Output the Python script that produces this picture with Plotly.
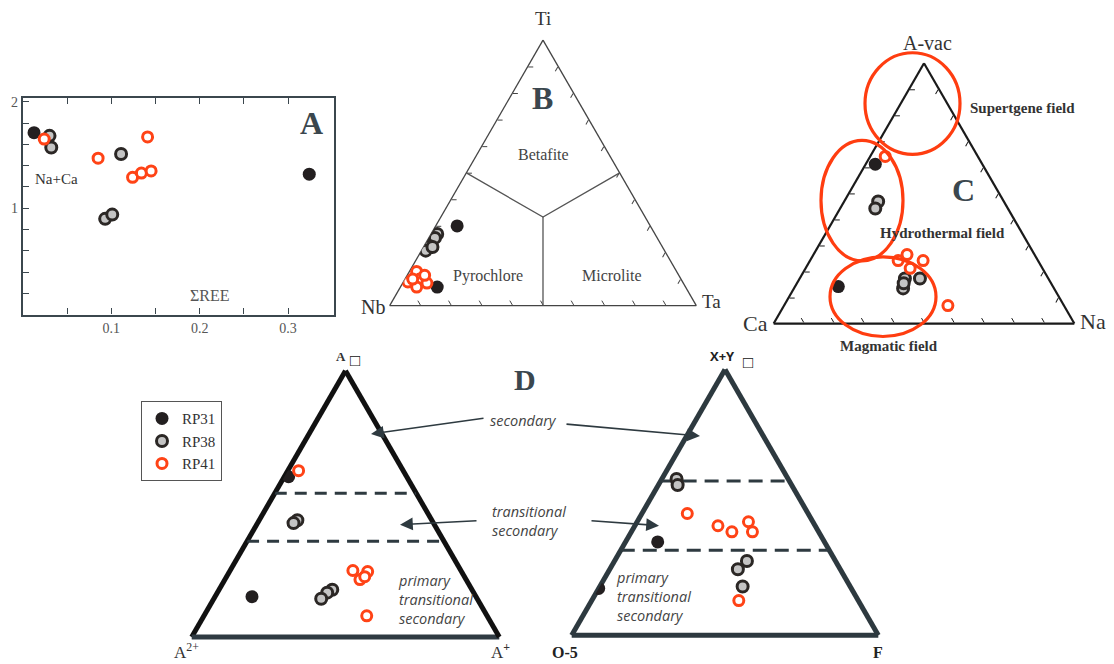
import numpy as np
import plotly.graph_objects as go

W, H = 1114, 664

# ---------------- Panel A data (ΣREE vs Na+Ca) ----------------
a_rp31_x = [0.0125, 0.324]
a_rp31_y = [1.71, 1.32]
a_rp38_x = [0.030, 0.032, 0.111, 0.093, 0.101]
a_rp38_y = [1.68, 1.57, 1.51, 0.90, 0.94]
a_rp41_x = [0.024, 0.085, 0.141, 0.124, 0.134, 0.145]
a_rp41_y = [1.65, 1.47, 1.67, 1.29, 1.33, 1.35]
a_xticks = [0.05, 0.10, 0.15, 0.20, 0.25, 0.30]
a_xticktext = ["", "0.1", "", "0.2", "", "0.3"]
a_yticks = [0.2, 0.4, 0.6, 0.8, 1.0, 1.2, 1.4, 1.6, 1.8, 2.0]
a_yticktext = ["", "", "", "", "1", "", "", "", "", "2"]

# ---------------- Panel B data (Ti, Nb, Ta) ----------------
b_rp31_ti = [0.30, 0.07]
b_rp31_nb = [0.63, 0.81]
b_rp31_ta = [0.07, 0.12]
b_rp38_ti = [0.27, 0.255, 0.225, 0.207, 0.221]
b_rp38_nb = [0.71, 0.725, 0.758, 0.779, 0.750]
b_rp38_ta = [0.02, 0.020, 0.017, 0.014, 0.029]
b_rp41_ti = [0.129, 0.089, 0.100, 0.085, 0.070, 0.114, 0.100]
b_rp41_nb = [0.848, 0.896, 0.852, 0.836, 0.877, 0.829, 0.875]
b_rp41_ta = [0.023, 0.015, 0.048, 0.079, 0.053, 0.057, 0.025]
# field boundaries (centroid to edge midpoints)
b_field_ti = [0.5, 1/3, 0.5, None, 1/3, 0.0]
b_field_nb = [0.5, 1/3, 0.0, None, 1/3, 0.5]
b_field_ta = [0.0, 1/3, 0.5, None, 1/3, 0.5]

# ---------------- Panel C data (A-vac, Ca, Na) ----------------
c_rp31_av = [0.612, 0.142]
c_rp31_ca = [0.356, 0.714]
c_rp31_na = [0.032, 0.144]
c_rp38_av = [0.469, 0.442, 0.173, 0.135, 0.173, 0.155]
c_rp38_ca = [0.418, 0.441, 0.477, 0.502, 0.427, 0.490]
c_rp38_na = [0.113, 0.117, 0.350, 0.363, 0.400, 0.355]
c_rp41_av = [0.642, 0.242, 0.265, 0.242, 0.212, 0.069]
c_rp41_ca = [0.308, 0.465, 0.424, 0.382, 0.440, 0.386]
c_rp41_na = [0.050, 0.293, 0.311, 0.376, 0.348, 0.545]

# ---------------- Panel D left (A vacancy, A2+, A+) ----------------
dl_rp31_v = [0.152, 0.602]
dl_rp31_2 = [0.728, 0.384]
dl_rp31_1 = [0.120, 0.014]
dl_rp38_v = [0.439, 0.428, 0.178, 0.167, 0.144]
dl_rp38_2 = [0.437, 0.455, 0.454, 0.476, 0.507]
dl_rp38_1 = [0.124, 0.117, 0.368, 0.357, 0.349]
dl_rp41_v = [0.625, 0.250, 0.246, 0.216, 0.227, 0.080]
dl_rp41_2 = [0.340, 0.351, 0.305, 0.345, 0.324, 0.391]
dl_rp41_1 = [0.035, 0.399, 0.449, 0.439, 0.449, 0.529]
dl_bounds = [0.54, 0.36]

# ---------------- Panel D right (X+Y vacancy, O-5, F) ----------------
dr_rp31_v = [0.351, 0.176]
dr_rp31_o = [0.544, 0.824]
dr_rp31_f = [0.105, 0.000]
dr_rp38_v = [0.588, 0.565, 0.279, 0.248, 0.183]
dr_rp38_o = [0.364, 0.372, 0.289, 0.334, 0.351]
dr_rp38_f = [0.048, 0.063, 0.432, 0.418, 0.466]
dr_rp41_v = [0.458, 0.412, 0.389, 0.427, 0.389, 0.130]
dr_rp41_o = [0.394, 0.317, 0.283, 0.210, 0.216, 0.390]
dr_rp41_f = [0.148, 0.271, 0.328, 0.363, 0.395, 0.480]
dr_bounds = [0.58, 0.32]

series_names = ["RP31", "RP38", "RP41"]

# ---------------- styles ----------------
SERIF = "Liberation Serif"
SANS = "Open Sans"
SLATE = "#3b474e"
M31 = dict(size=13, color="#231f20", symbol="circle", line=dict(width=0))
M38 = dict(size=11, color="#c4c4c4", symbol="circle", line=dict(color="#2b2725", width=3))
M41 = dict(size=10, color="white", symbol="circle", line=dict(color="#ff4316", width=3))
MARKERS = [M31, M38, M41]


def px(x):
    return x / W


def py(y):
    return 1 - y / H


def tern_domain(xl, base, w):
    h = w * np.sqrt(3) / 2
    return dict(x=[px(xl), px(xl + w)], y=[py(base), py(base - h)])


def tern_axis(color, width, ticks):
    d = dict(showgrid=False, showticklabels=False, linecolor=color, linewidth=width,
             title=dict(text=""), layer="below traces")
    if ticks:
        d.update(ticks="inside", ticklen=5, tickwidth=1, tickcolor=color, tickmode="linear",
                 tick0=0, dtick=0.1)
    else:
        d.update(ticks="")
    return d


fig = go.Figure()

# Panel A traces
for name, xs, ys, mk in zip(series_names, [a_rp31_x, a_rp38_x, a_rp41_x],
                            [a_rp31_y, a_rp38_y, a_rp41_y], MARKERS):
    fig.add_trace(go.Scatter(x=xs, y=ys, mode="markers", marker=mk, name=name,
                             legendgroup=name, showlegend=True))

# Ternary traces helper
def add_tern(sub, groups):
    for name, (aa, bb, cc), mk in zip(series_names, groups, MARKERS):
        fig.add_trace(go.Scatterternary(a=aa, b=bb, c=cc, mode="markers", marker=mk,
                                        name=name, legendgroup=name, showlegend=False,
                                        subplot=sub))


# Panel B
fig.add_trace(go.Scatterternary(a=b_field_ti, b=b_field_nb, c=b_field_ta, mode="lines",
                                line=dict(color="#555555", width=1.3), showlegend=False,
                                subplot="ternary", hoverinfo="skip"))
add_tern("ternary", [(b_rp31_ti, b_rp31_nb, b_rp31_ta),
                     (b_rp38_ti, b_rp38_nb, b_rp38_ta),
                     (b_rp41_ti, b_rp41_nb, b_rp41_ta)])

# Panel C
add_tern("ternary2", [(c_rp31_av, c_rp31_ca, c_rp31_na),
                      (c_rp38_av, c_rp38_ca, c_rp38_na),
                      (c_rp41_av, c_rp41_ca, c_rp41_na)])

# Panel D left boundaries
for v in dl_bounds:
    fig.add_trace(go.Scatterternary(a=[v, v], b=[1 - v, 0], c=[0, 1 - v], mode="lines",
                                    line=dict(color="#2e3a40", width=3, dash="12px,8px"),
                                    showlegend=False, subplot="ternary3", hoverinfo="skip"))
add_tern("ternary3", [(dl_rp31_v, dl_rp31_2, dl_rp31_1),
                      (dl_rp38_v, dl_rp38_2, dl_rp38_1),
                      (dl_rp41_v, dl_rp41_2, dl_rp41_1)])

# Panel D right boundaries
for v in dr_bounds:
    fig.add_trace(go.Scatterternary(a=[v, v], b=[1 - v, 0], c=[0, 1 - v], mode="lines",
                                    line=dict(color="#2e3a40", width=3, dash="14px,8px"),
                                    showlegend=False, subplot="ternary4", hoverinfo="skip"))
add_tern("ternary4", [(dr_rp31_v, dr_rp31_o, dr_rp31_f),
                      (dr_rp38_v, dr_rp38_o, dr_rp38_f),
                      (dr_rp41_v, dr_rp41_o, dr_rp41_f)])

# ---------------- layout ----------------
tick_font = dict(family=SERIF, size=14, color="#555555")
fig.update_layout(
    width=W, height=H, margin=dict(l=0, r=0, t=0, b=0),
    paper_bgcolor="white", plot_bgcolor="white",
    xaxis=dict(domain=[px(23), px(334)], range=[0, 0.352], tickvals=a_xticks,
               ticktext=a_xticktext, ticks="inside", ticklen=6, tickwidth=1.3,
               tickcolor=SLATE, showline=True, linecolor=SLATE, linewidth=2.2,
               mirror="ticks", showgrid=False, zeroline=False, tickfont=tick_font),
    yaxis=dict(domain=[py(313), py(95)], range=[0, 2.04], tickvals=a_yticks,
               ticktext=a_yticktext, ticks="inside", ticklen=6, tickwidth=1.3,
               tickcolor=SLATE, showline=True, linecolor=SLATE, linewidth=2.2,
               mirror=True, showgrid=False, zeroline=False, tickfont=tick_font),
    ternary=dict(domain=tern_domain(389, 304, 308), bgcolor="rgba(0,0,0,0)",
                 aaxis=tern_axis("#444444", 1.3, True), baxis=tern_axis("#444444", 1.3, True),
                 caxis=tern_axis("#444444", 1.3, True)),
    ternary2=dict(domain=tern_domain(773, 322, 302), bgcolor="rgba(0,0,0,0)",
                  aaxis=tern_axis("#1a1a1a", 2.2, True), baxis=tern_axis("#1a1a1a", 2.2, True),
                  caxis=tern_axis("#1a1a1a", 2.2, True)),
    ternary3=dict(domain=tern_domain(191, 637, 309), bgcolor="rgba(0,0,0,0)",
                  aaxis=tern_axis("#111111", 5, False), baxis=tern_axis("#2f3a42", 5, False),
                  caxis=tern_axis("#111111", 5, False)),
    ternary4=dict(domain=tern_domain(571, 635, 308), bgcolor="rgba(0,0,0,0)",
                  aaxis=tern_axis("#2d393f", 5, False), baxis=tern_axis("#2d393f", 5, False),
                  caxis=tern_axis("#2d393f", 5, False)),
    legend=dict(x=px(141), y=py(400), xanchor="left", yanchor="top",
                bordercolor="#555555", borderwidth=1, bgcolor="white",
                font=dict(family=SERIF, size=15, color="#333333"),
                itemwidth=30, tracegroupgap=0),
    showlegend=True,
)

# ---------------- annotations ----------------
anns = []


def ann(text, x, y, size, color="#333333", family=SERIF, xanchor="center", yanchor="middle",
        align="center"):
    anns.append(dict(text=text, x=px(x), y=py(y), xref="paper", yref="paper",
                     showarrow=False, xanchor=xanchor, yanchor=yanchor, align=align,
                     font=dict(family=family, size=size, color=color)))


# Panel A
ann("Na+Ca", 56, 177, 15)
ann("ΣREE", 210, 294, 16, color="#555555")
ann("<b>A</b>", 311, 121, 32, color=SLATE)
# Panel B
ann("Ti", 543, 16, 19)
ann("Nb", 387, 305, 20, xanchor="right")
ann("Ta", 700, 300, 19, xanchor="left")
ann("<b>B</b>", 542, 95, 32, color=SLATE)
ann("Betafite", 543, 152, 16, color="#444444")
ann("Pyrochlore", 488, 274, 16, color="#444444")
ann("Microlite", 612, 274, 16, color="#444444")
# Panel C
ann("A-vac", 927, 40, 20)
ann("Ca", 770, 322, 22, xanchor="right")
ann("Na", 1078, 320, 22, xanchor="left")
ann("<b>C</b>", 963, 188, 32, color=SLATE)
ann("<b>Supertgene field</b>", 1022, 105, 15)
ann("<b>Hydrothermal field</b>", 942, 231, 15)
ann("<b>Magmatic field</b>", 889, 345, 15)
# Panel D
ann("<b>D</b>", 525, 378, 30, color=SLATE)
ann("<b>A</b>", 341, 355, 13, color="#333333")
ann("<b>□</b>", 355, 359, 17, color="#111111")
ann("<b>X+Y</b>", 722, 355, 13, color="#222222", family=SANS)
ann("<b>□</b>", 748, 361, 17, color="#111111")
ann("A<sup>2+</sup>", 186, 651, 17, color="#333333")
ann("A<sup><b>+</b></sup>", 500, 651, 17, color="#333333")
ann("<b>O-5</b>", 565, 652, 16, color="#222222")
ann("<b>F</b>", 878, 652, 16, color="#222222")
ann("<i>secondary</i>", 523, 419, 14.5, color="#444444", family=SANS)
ann("<i>transitional<br>secondary</i>", 490, 520, 14.5, color="#444444", family=SANS,
    xanchor="left", align="left")
ann("<i>primary<br>transitional<br>secondary</i>", 396, 599, 14.5, color="#444444",
    family=SANS, xanchor="left", align="left")
ann("<i>primary<br>transitional<br>secondary</i>", 614, 596, 14.5, color="#444444",
    family=SANS, xanchor="left", align="left")

# arrows (head position, tail position) in pixels
arrows = [((371, 433), (485, 417)), ((700, 435), (565, 423)),
          ((400, 524), (478, 520)), ((659, 525), (590, 520))]
for (hx, hy), (tx, ty) in arrows:
    anns.append(dict(x=px(hx), y=py(hy), xref="paper", yref="paper",
                     ax=tx - hx, ay=ty - hy, axref="pixel", ayref="pixel",
                     showarrow=True, arrowhead=2, arrowsize=1.6, arrowwidth=1.6,
                     arrowcolor="#2e3a40", text=""))

fig.update_layout(annotations=anns)

# ---------------- ellipses in C ----------------
ellipses = [(865, 50, 960, 152), (821, 138, 903, 259), (830, 255, 936, 335)]
for x0, y0, x1, y1 in ellipses:
    fig.add_shape(type="circle", xref="paper", yref="paper", x0=px(x0), x1=px(x1),
                  y0=py(y1), y1=py(y0), line=dict(color="#ff3d10", width=3.2))

fig.write_html("out.html", config={"displayModeBar": False},
               post_script="document.body.style.margin='0px';document.body.style.overflow='hidden';")
